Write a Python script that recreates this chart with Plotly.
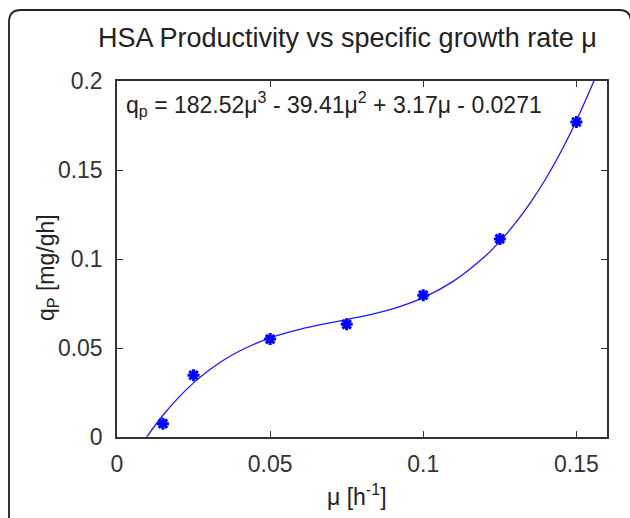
import plotly.graph_objects as go

# ---- data ----
mu_points = [0.015, 0.025, 0.05, 0.075, 0.10, 0.125, 0.15]
qp_points = [0.0075, 0.0347, 0.0550, 0.0633, 0.0797, 0.1113, 0.1770]

mu_curve = [0.0097, 0.015, 0.02, 0.025, 0.03, 0.035, 0.04, 0.05, 0.06, 0.07, 0.08,
            0.09, 0.10, 0.11, 0.12, 0.125, 0.13, 0.135, 0.14, 0.145, 0.15, 0.155, 0.1565]
qp_curve = [0.0001, 0.0122, 0.0220, 0.0304, 0.0375, 0.0434, 0.0483, 0.0557, 0.0606,
            0.0643, 0.0677, 0.0720, 0.0783, 0.0877, 0.1012, 0.1099, 0.1200, 0.1317,
            0.1451, 0.1604, 0.1777, 0.1971, 0.2030]

x_tickvals = [0, 0.05, 0.1, 0.15]
x_ticktext = ["0", "0.05", "0.1", "0.15"]
y_tickvals = [0, 0.05, 0.1, 0.15, 0.2]
y_ticktext = ["0", "0.05", "0.1", "0.15", "0.2"]

title_text = "HSA Productivity vs specific growth rate \u03bc"
equation_text = ("q<sub>p</sub> = 182.52\u03bc<sup>3</sup> - 39.41\u03bc<sup>2</sup>"
                 " + 3.17\u03bc - 0.0271")
xlabel_text = "\u03bc [h<sup>-1</sup>]"
ylabel_text = "q<sub>P</sub> [mg/gh]"

# ---- layout geometry (pixels) ----
W, H = 630, 518
L, R, T, B = 117, 607, 81, 437
FONT = "Liberation Sans, Arial, sans-serif"
AX = "#333333"
BLUE = "#0000ff"


def px(xp):
    return (xp - L) / (R - L)


def py(yp):
    return (B - yp) / (B - T)


fig = go.Figure()
fig.add_trace(go.Scatter(x=mu_curve, y=qp_curve, mode="lines",
                         line=dict(color="#1a1aff", width=1.3, shape="spline"),
                         showlegend=False, hoverinfo="skip"))
fig.add_trace(go.Scatter(x=mu_points, y=qp_points, mode="markers",
                         marker=dict(symbol="asterisk-open", size=10, color=BLUE,
                                     line=dict(width=3, color=BLUE)),
                         showlegend=False))
fig.add_trace(go.Scatter(x=mu_points, y=qp_points, mode="markers",
                         marker=dict(symbol="circle", size=7, color=BLUE,
                                     line=dict(width=0, color=BLUE)),
                         showlegend=False, hoverinfo="skip"))

axis_common = dict(showgrid=False, zeroline=False, showline=True, linecolor=AX,
                   linewidth=1.5, mirror="ticks", ticks="inside", ticklen=6,
                   tickwidth=1.2, tickcolor=AX,
                   tickfont=dict(family=FONT, size=23, color="#333333"))

fig.update_xaxes(range=[0, 0.16], tickvals=x_tickvals, ticktext=x_ticktext,
                 ticklabelstandoff=6, **axis_common)
fig.update_yaxes(range=[0, 0.2], tickvals=y_tickvals, ticktext=y_ticktext,
                 ticklabelstandoff=8, **axis_common)

# outer rounded frame (partly outside the canvas)
fx0, fx1, fy0, fy1, r = 9, 631, 10, 540, 12
path = (f"M {px(fx0)},{py(fy1)} L {px(fx0)},{py(fy0 + r)} "
        f"Q {px(fx0)},{py(fy0)} {px(fx0 + r)},{py(fy0)} "
        f"L {px(fx1 - r)},{py(fy0)} Q {px(fx1)},{py(fy0)} {px(fx1)},{py(fy0 + r)} "
        f"L {px(fx1)},{py(fy1)}")
fig.add_shape(type="path", path=path, xref="paper", yref="paper",
              line=dict(color="#222222", width=1.8), layer="below")

fig.add_annotation(text=title_text, x=px(347), y=py(38), xref="paper", yref="paper",
                   showarrow=False, xanchor="center", yanchor="middle",
                   font=dict(family=FONT, size=27, color="#222222"))
fig.add_annotation(text=equation_text, x=px(124), y=py(104), xref="paper", yref="paper",
                   showarrow=False, xanchor="left", yanchor="middle",
                   font=dict(family=FONT, size=23, color="#222222"))
fig.add_annotation(text=xlabel_text, x=px(357), y=py(495), xref="paper", yref="paper",
                   showarrow=False, xanchor="center", yanchor="middle",
                   font=dict(family=FONT, size=23, color="#222222"))
fig.add_annotation(text=ylabel_text, x=px(47), y=py(268), xref="paper", yref="paper",
                   showarrow=False, xanchor="center", yanchor="middle", textangle=-90,
                   font=dict(family=FONT, size=23, color="#222222"))

fig.update_layout(width=W, height=H, margin=dict(l=L, r=W - R, t=T, b=H - B),
                  paper_bgcolor="white", plot_bgcolor="white", showlegend=False)

fig.write_html("out.html")
